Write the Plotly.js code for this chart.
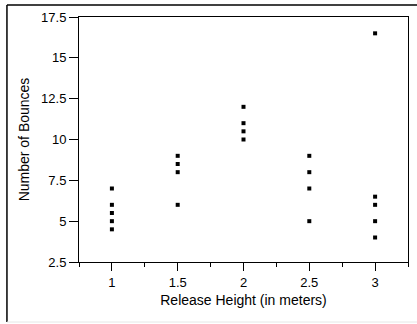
<!DOCTYPE html>
<html>
<head>
<meta charset="utf-8">
<script src="https://cdn.plot.ly/plotly-3.0.1.min.js"></script>
<style>
html,body{margin:0;padding:0;background:#fff;}
#chart{width:417px;height:324px;}
</style>
</head>
<body>
<div id="chart"></div>
<script>
var releaseHeight = [1, 1, 1, 1, 1,
                     1.5, 1.5, 1.5, 1.5,
                     2, 2, 2, 2,
                     2.5, 2.5, 2.5, 2.5,
                     3, 3, 3, 3, 3];
var bounces = [7, 6, 5.5, 5, 4.5,
               9, 8.5, 8, 6,
               12, 11, 10.5, 10,
               9, 8, 7, 5,
               16.5, 6.5, 6, 5, 4];
var yTickVals = [2.5, 5, 7.5, 10, 12.5, 15, 17.5];
var yTickText = ['2.5', '5', '7.5', '10', '12.5', '15', '17.5'];
var xTickVals = [1, 1.5, 2, 2.5, 3];
var xTickText = ['1', '1.5', '2', '2.5', '3'];

var trace = {
  x: releaseHeight,
  y: bounces,
  type: 'scatter',
  mode: 'markers',
  marker: {symbol: 'square', size: 4, color: '#000'},
  hoverinfo: 'x+y'
};

var tickFnt = {family: 'Liberation Sans, Arial, sans-serif', size: 13, color: '#000'};
var titleFnt = {family: 'Liberation Sans, Arial, sans-serif', size: 14, color: '#000'};

var layout = {
  width: 417,
  height: 324,
  margin: {l: 79, r: 9, t: 17, b: 62},
  paper_bgcolor: '#fff',
  plot_bgcolor: '#fff',
  showlegend: false,
  font: tickFnt,
  xaxis: {
    range: [0.75, 3.25],
    tickvals: xTickVals,
    ticktext: xTickText,
    ticks: 'outside',
    ticklen: 8,
    tickwidth: 1,
    tickcolor: '#000',
    showline: true,
    linecolor: '#000',
    linewidth: 1,
    mirror: true,
    showgrid: false,
    zeroline: false,
    minor: {dtick: 0.25, tick0: 0.75, ticks: 'outside', ticklen: 4, tickcolor: '#000', showgrid: false},
    tickfont: tickFnt,
    title: {text: 'Release Height (in meters)', font: titleFnt, standoff: 6}
  },
  yaxis: {
    range: [2.5, 17.5],
    tickvals: yTickVals,
    ticktext: yTickText,
    ticks: 'outside',
    ticklen: 9,
    tickwidth: 1,
    tickcolor: '#000',
    showline: true,
    linecolor: '#000',
    linewidth: 1,
    mirror: true,
    showgrid: false,
    zeroline: false,
    tickfont: tickFnt,
    title: {text: 'Number of Bounces', font: titleFnt, standoff: 8}
  },
  shapes: [
    {type: 'line', xref: 'paper', yref: 'paper', x0: -0.219, x1: -0.219, y0: -0.245, y1: 1.049,
     line: {color: '#000', width: 1.5}},
    {type: 'line', xref: 'paper', yref: 'paper', x0: -0.219, x1: 1.03, y0: 1.049, y1: 1.049,
     line: {color: '#000', width: 1.5}},
    {type: 'line', xref: 'paper', yref: 'paper', x0: -0.219, x1: 1.03, y0: -0.245, y1: -0.245,
     line: {color: '#e6e6e6', width: 1}}
  ]
};

Plotly.newPlot('chart', [trace], layout, {displayModeBar: false, staticPlot: true});
</script>
</body>
</html>
